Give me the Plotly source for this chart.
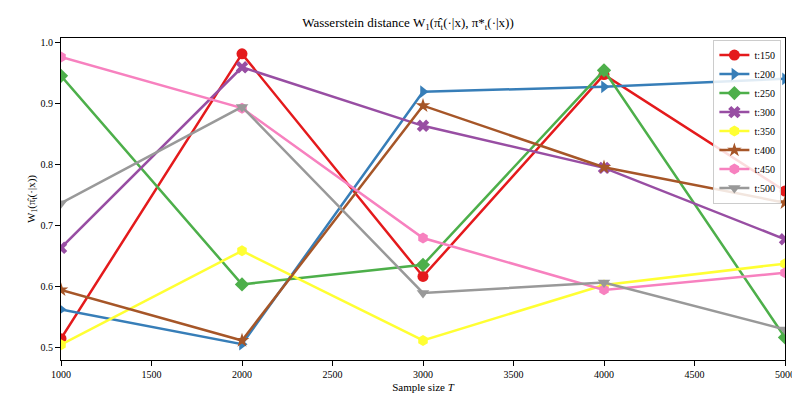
import plotly.graph_objects as go

sizes = [1000, 2000, 3000, 4000, 5000]
labels = ["t:150", "t:200", "t:250", "t:300", "t:350", "t:400", "t:450", "t:500"]
values = [
    [0.515, 0.982, 0.617, 0.948, 0.757],
    [0.563, 0.506, 0.920, 0.928, 0.941],
    [0.946, 0.604, 0.636, 0.955, 0.517],
    [0.664, 0.960, 0.864, 0.795, 0.678],
    [0.505, 0.659, 0.512, 0.603, 0.638],
    [0.595, 0.512, 0.897, 0.796, 0.738],
    [0.977, 0.893, 0.680, 0.595, 0.623],
    [0.737, 0.895, 0.590, 0.607, 0.530],
]
colors = ["#e41a1c", "#377eb8", "#4daf4a", "#984ea3", "#ffff33", "#a65628", "#f781bf", "#999999"]
symbols = ["circle", "triangle-right", "diamond", "x", "hexagon", "star", "hexagon", "triangle-down"]

fig = go.Figure()
for lab, v, c, s in zip(labels, values, colors, symbols):
    fig.add_trace(go.Scatter(x=sizes, y=v, name=lab, mode="lines+markers",
                             line=dict(color=c, width=2.5),
                             marker=dict(symbol=s, size=11, color=c)))

ax = dict(showgrid=False, zeroline=False, showline=True, mirror=True, linecolor="black",
          ticks="outside", tickcolor="black", tickfont=dict(size=10), automargin=False)
fig.update_layout(
    width=800, height=400, autosize=False,
    margin=dict(l=53, r=23, t=30, b=48),
    plot_bgcolor="white", paper_bgcolor="white",
    font=dict(family="Liberation Serif", color="black", size=11),
    title=dict(text="Wasserstein distance W<sub>1</sub>(π̂<sub>t</sub>(·|x), π*<sub>t</sub>(·|x))",
               x=0.5, xanchor="center", y=0.975, font=dict(size=13)),
    xaxis=dict(ax, range=[1000, 5000], dtick=500, title=dict(text="Sample size <i>T</i>", standoff=4, font=dict(size=11))),
    yaxis=dict(ax, range=[0.48, 1.008], dtick=0.1, tickformat=".1f",
               title=dict(text="W<sub>1</sub>(π̂<sub>t</sub>(·|x))", standoff=2, font=dict(size=11))),
    legend=dict(x=0.995, y=0.995, xanchor="right", yanchor="top", bgcolor="rgba(255,255,255,0.85)",
                bordercolor="#cccccc", borderwidth=1, font=dict(size=10), tracegroupgap=0),
)
fig.write_html("out.html")
